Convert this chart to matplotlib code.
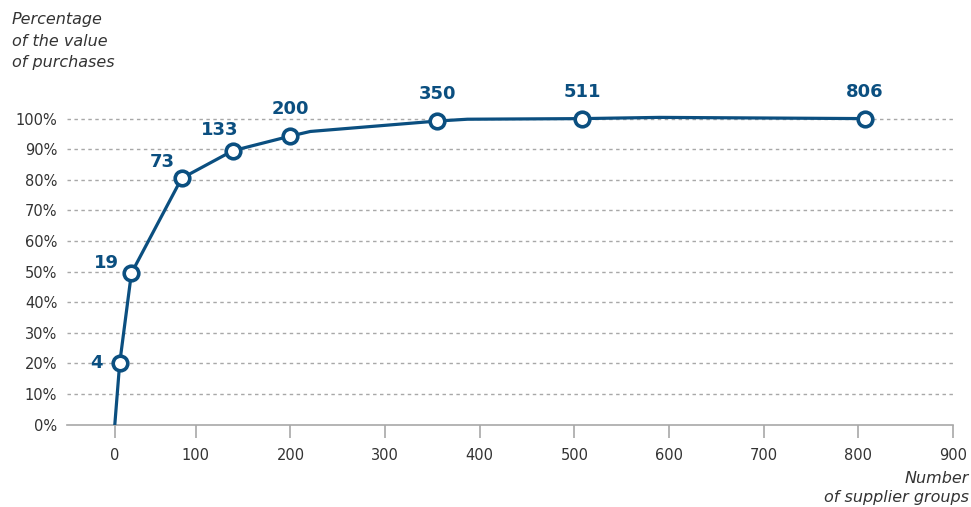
import matplotlib
matplotlib.use("Agg")
import matplotlib.pyplot as plt
import numpy as np

# --- data ---
x_vals = [0, 6, 20.5, 82.5, 139, 200, 221, 355, 387, 508, 590, 807]
y_vals = [0, 20, 49.5, 80.5, 89.5, 94.3, 95.8, 99.2, 99.8, 100.0, 100.4, 100.0]
marker_x = [6, 20.5, 82.5, 139, 200, 355, 508, 807]
marker_y = [20, 49.5, 80.5, 89.5, 94.3, 99.2, 100.0, 100.0]
marker_labels = ["4", "19", "73", "133", "200", "350", "511", "806"]
label_offsets_px = [(-23, 0), (-25, 10), (-19, 16), (-13, 21), (0, 27), (0, 27), (0, 27), (0, 27)]
x_ticks = [0, 100, 200, 300, 400, 500, 600, 700, 800, 900]
y_ticks = [0, 10, 20, 30, 40, 50, 60, 70, 80, 90, 100]
y_tick_labels = [f"{v}%" for v in y_ticks]

BLUE = "#0b4f80"
GREY_TXT = "#333333"
FONT = ["DejaVu Sans"]
plt.rcParams["font.family"] = FONT

W, H = 971, 507
fig = plt.figure(figsize=(W / 100, H / 100), dpi=100)
ax_left, ax_right, ax_bottom, ax_top = 67, 953, 424.7, 88.0
ax = fig.add_axes([ax_left / W, (H - ax_bottom) / H, (ax_right - ax_left) / W, (ax_bottom - ax_top) / H])

# piecewise x scale (0-100 segment is narrower in the reference)
k = 0.856
def fwd(x):
    x = np.asarray(x, dtype=float)
    return np.where(x <= 100, x * k, 100 * k + (x - 100))
def inv(u):
    u = np.asarray(u, dtype=float)
    return np.where(u <= 100 * k, u / k, (u - 100 * k) + 100)
ax.set_xscale("function", functions=(fwd, inv))
ax.set_xlim(-59, 900)
ax.set_ylim(0, 110)

# gridlines
for v in y_ticks[1:]:
    ax.axhline(v, color="#a8a8a8", lw=1.0, ls=(0, (2.5, 2.5)), zorder=1)

ax.plot(x_vals, y_vals, color=BLUE, lw=2.3, zorder=3, solid_joinstyle="round")
ax.plot(marker_x, marker_y, ls="none", marker="o", ms=10.5, mfc="white", mec=BLUE, mew=2.6, zorder=4)

for x, y, lab, (dx, dy) in zip(marker_x, marker_y, marker_labels, label_offsets_px):
    ax.annotate(lab, (x, y), xytext=(dx * 0.72, dy * 0.72), textcoords="offset points",
                ha="center", va="center", fontsize=13, fontweight="bold", color=BLUE,
                annotation_clip=False, zorder=5)

for s in ["top", "right", "left"]:
    ax.spines[s].set_visible(False)
ax.spines["bottom"].set_color("#a8a8a8")
ax.spines["bottom"].set_linewidth(1.2)

ax.set_xticks(x_ticks)
ax.set_xticklabels([str(v) for v in x_ticks])
ax.tick_params(axis="x", length=9, width=1.2, color="#a8a8a8", pad=8, labelsize=10.5, labelcolor=GREY_TXT)
ax.set_yticks(y_ticks)
ax.set_yticklabels(y_tick_labels)
ax.tick_params(axis="y", length=0, pad=7, labelsize=10.5, labelcolor=GREY_TXT)
ax.xaxis.set_minor_locator(matplotlib.ticker.NullLocator())

fig.text(12 / W, 1 - 12 / H, "Percentage\nof the value\nof purchases", ha="left", va="top",
         fontsize=11.5, style="italic", color=GREY_TXT, linespacing=1.55)
fig.text(969 / W, 1 - 505 / H, "Number\nof supplier groups", ha="right", va="bottom",
         fontsize=11.5, style="italic", color=GREY_TXT, linespacing=1.3)

fig.savefig("out.png", dpi=100)
